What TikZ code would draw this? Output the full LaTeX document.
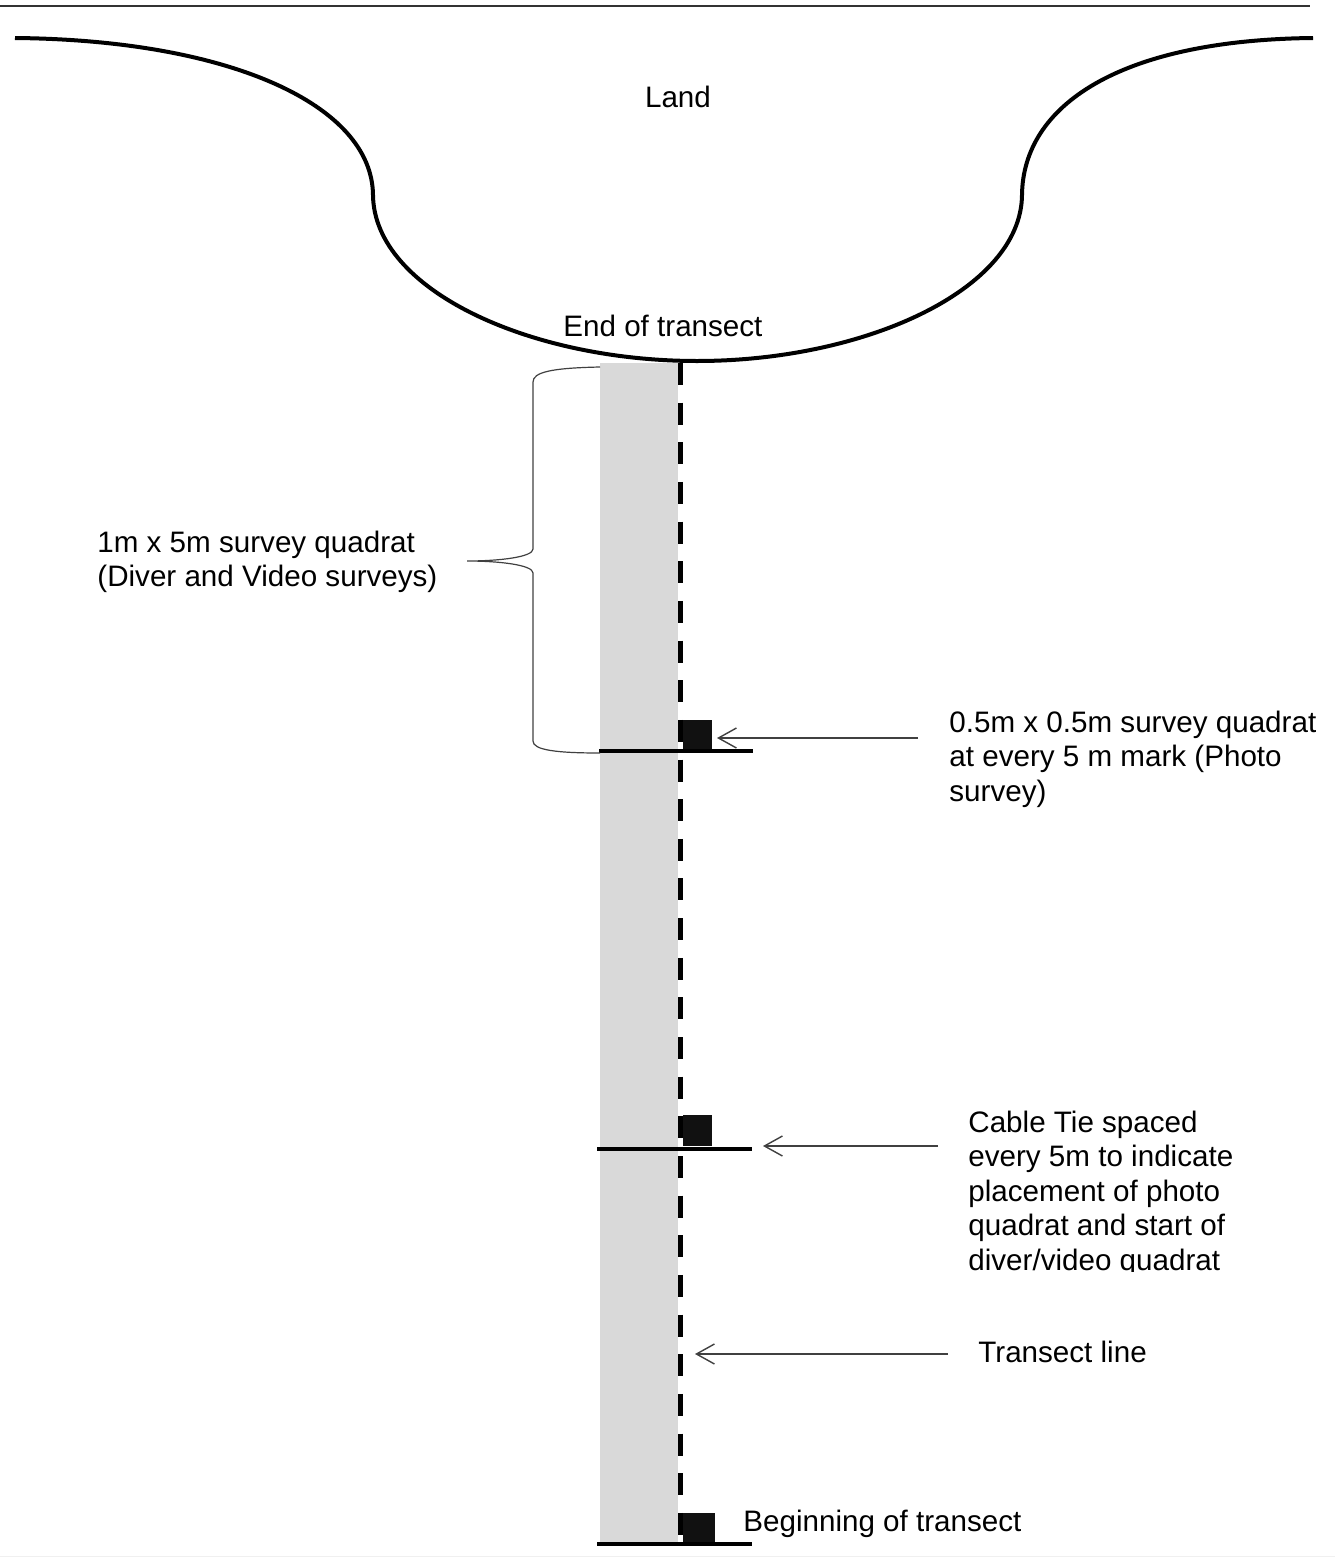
\documentclass[tikz,border=0pt]{standalone}
\usepackage{fontspec}
\setmainfont{Liberation Sans}
\usetikzlibrary{arrows.meta}
\definecolor{quadgray}{HTML}{D9D9D9}
\definecolor{tiefill}{HTML}{111111}
\definecolor{thinline}{HTML}{404040}
\begin{document}
\begin{tikzpicture}[x=0.5pt,y=-0.5pt,
  lbl/.style={font=\fontsize{14.8}{17.25}\selectfont, inner sep=0pt, anchor=base west, align=left},
  landline/.style={line width=2pt, black},
  callout/.style={draw=thinline, line width=0.7pt, -{Straight Barb[length=9pt,width=10pt]}},
  tickline/.style={line width=2pt, black},
  tie/.style={fill=tiefill, draw=none, inner sep=0pt},
  bracket/.style={draw=thinline, line width=0.6pt},
  transect/.style={line width=2.5pt, black, dash pattern=on 11pt off 8.825pt}]

\useasboundingbox (0,0) rectangle (1335,1558);

% frame lines
\draw[line width=1pt, black!80] (0,5.5) -- (1310,5.5);
\draw[line width=0.5pt, black!6] (0,1556) -- (1335,1556);

% quadrat strip
\fill[quadgray] (600,363) rectangle (678,1544);

% land outline
\draw[landline] (15,38) .. controls (230,40) and (372,105) .. (373,195)
  .. controls (374,290) and (530,361) .. (697,361)
  .. controls (864,361) and (1021,290) .. (1022,195)
  .. controls (1023,105) and (1120,40) .. (1313,38);

% transect line
\draw[transect] (680,363) -- (680,1542);

% cable ties / ticks
\draw[tickline] (599,750.5) -- (753,750.5);
\draw[tickline] (597,1148.5) -- (752,1148.5);
\draw[tickline] (597,1544) -- (752,1544);

% photo quadrats
\node[tie, minimum width=14.5pt, minimum height=14.5pt] (q1) at (697.5,734.5) {};
\node[tie, minimum width=14.5pt, minimum height=15.5pt] (q2) at (697.5,1130.5) {};
\node[tie, minimum width=16pt, minimum height=14.5pt] (q3) at (699,1527.5) {};

% brace
\draw[bracket] (600,367) .. controls (552,368) and (533,372) .. (533,382)
  -- (533,549) .. controls (533,557) and (500,561) .. (467,561)
  .. controls (500,561) and (533,565) .. (533,573)
  -- (533,741) .. controls (533,750) and (556,753) .. (600,753);

% labels (base anchor = baseline of the last line)
\node[lbl, anchor=base] (land) at (678,107) {Land};
\node[lbl] (endt) at (563,336) {End of transect};
\node[lbl] (big) at (97,586.5) {1m x 5m survey quadrat\\(Diver and Video surveys)};
\node[lbl] (photo) at (949,801) {0.5m x 0.5m survey quadrat\\at every 5 m mark (Photo\\survey)};
\begin{scope}
  \clip (955,1090) rectangle (1320,1271);
  \node[lbl] (cable) at (968,1270) {Cable Tie spaced\\every 5m to indicate\\placement of photo\\quadrat and start of\\diver/video quadrat};
\end{scope}
\node[lbl] (tline) at (978,1362) {Transect line};
\node[lbl] (begin) at (743,1531) {Beginning of transect};

% callout arrows
\coordinate (a1s) at (918,738);
\coordinate (a1e) at (717,738);
\coordinate (a2s) at (938,1146);
\coordinate (a2e) at (763,1146);
\coordinate (a3s) at (948,1354);
\coordinate (a3e) at (695,1354);
\draw[callout] (a1s) -- (a1e);
\draw[callout] (a2s) -- (a2e);
\draw[callout] (a3s) -- (a3e);

\end{tikzpicture}
\end{document}
